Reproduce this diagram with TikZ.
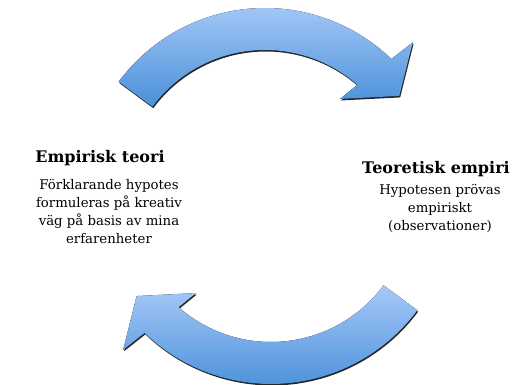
\documentclass[tikz,border=0pt]{standalone}
\usepackage{fontspec}
\setmainfont{DejaVu Serif}
\usetikzlibrary{calc,positioning}
\definecolor{arrowlight}{RGB}{166,201,248}
\definecolor{arrowdark}{RGB}{74,144,217}
\newcommand{\cyclearrow}[1]{(143.5+#1:182) arc[start angle=143.5+#1, end angle=46+#1, radius=182pt]
  -- (45+#1:209) -- (35+#1:164) -- (50.5+#1:118) -- (48.7+#1:140)
  arc[start angle=48.7+#1, end angle=143.5+#1, radius=140pt] -- cycle}

\begin{document}
\begin{tikzpicture}[x=1pt,y=1pt,
  arrowfill/.style={top color=arrowlight, bottom color=arrowdark},
  arrowshadow/.style={fill=black, opacity=0.85},
  headline/.style={font=\fontsize{16}{19}\selectfont\bfseries, inner sep=0pt, anchor=base},
  bodytext/.style={font=\fontsize{13.3}{18}\selectfont, align=center, inner sep=0pt, anchor=north}]
\useasboundingbox (0,0) rectangle (521,384);
\fill [arrowshadow, shift={(265.8,192.5)}] \cyclearrow{0};
\fill [arrowfill, shift={(265,194)}] \cyclearrow{0};
\fill [arrowshadow, shift={(271.8,180.5)}] \cyclearrow{180};
\fill [arrowfill, shift={(271,182)}] \cyclearrow{180};
\node [headline] (emp) at (100,222) {Empirisk teori};
\node [bodytext] (emptxt) at (109,205) {Förklarande hypotes\\formuleras på kreativ\\väg på basis av mina\\erfarenheter};
\node [headline] (teo) at (436,211) {Teoretisk empiri};
\node [bodytext] (teotxt) at (440,200) {Hypotesen prövas\\empiriskt\\(observationer)};
\end{tikzpicture}
\end{document}
